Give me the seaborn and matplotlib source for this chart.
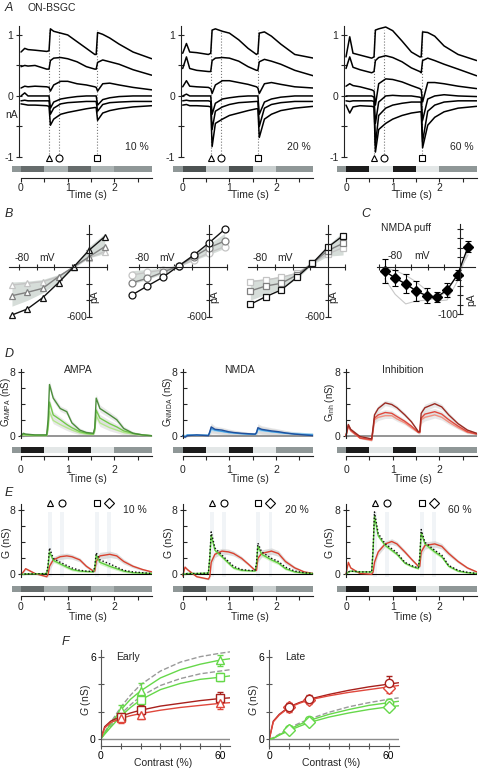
import numpy as np
import pandas as pd
import seaborn as sns
import matplotlib
matplotlib.use("Agg")
import matplotlib.pyplot as plt

# ---------------- data ----------------
contrasts = ['10 %', '20 %', '60 %']

# A: membrane currents (nA) at six holding potentials
a_time = [0.0, 0.08, 0.15, 0.3, 0.55, 0.6, 0.63, 0.7, 0.85, 1.0,
          1.2, 1.4, 1.58, 1.61, 1.64, 1.75, 1.9, 2.1, 2.4, 2.8]
a_10 = [
    [0.72, 0.78, 0.76, 0.75, 0.73, 0.74, 1.10, 1.06, 1.03, 1.0, 0.89, 0.78, 0.68, 0.68, 1.04, 1.01, 0.95, 0.85, 0.72, 0.61],
    [0.48, 0.50, 0.49, 0.50, 0.44, 0.44, 0.58, 0.62, 0.63, 0.61, 0.56, 0.48, 0.44, 0.44, 0.55, 0.59, 0.56, 0.52, 0.43, 0.34],
    [0.13, 0.16, 0.15, 0.16, 0.15, 0.14, 0.08, 0.18, 0.24, 0.24, 0.20, 0.18, 0.15, 0.14, 0.08, 0.20, 0.21, 0.18, 0.14, 0.10],
    [0.0, 0.05, 0.0, 0.0, 0.0, 0.0, -0.20, -0.10, -0.05, -0.03, -0.01, 0.0, 0.0, 0.0, -0.15, -0.06, -0.03, -0.01, 0.0, 0.0],
    [-0.08, -0.07, -0.08, -0.08, -0.08, -0.08, -0.30, -0.20, -0.13, -0.11, -0.10, -0.09, -0.09, -0.09, -0.25, -0.14, -0.11, -0.10, -0.09, -0.09],
    [-0.13, -0.14, -0.15, -0.15, -0.16, -0.17, -0.48, -0.38, -0.30, -0.27, -0.24, -0.21, -0.19, -0.19, -0.40, -0.28, -0.24, -0.21, -0.18, -0.16],
]
a_20 = [
    [0.70, 0.86, 0.72, 0.71, 0.68, 0.70, 1.08, 1.10, 1.06, 1.03, 0.92, 0.78, 0.68, 0.70, 1.03, 1.05, 0.98, 0.85, 0.68, 0.62],
    [0.45, 0.64, 0.45, 0.42, 0.40, 0.40, 0.58, 0.62, 0.63, 0.62, 0.57, 0.48, 0.42, 0.42, 0.56, 0.60, 0.57, 0.52, 0.42, 0.33],
    [0.15, 0.25, 0.16, 0.15, 0.14, 0.12, 0.04, 0.18, 0.25, 0.25, 0.22, 0.19, 0.15, 0.13, 0.04, 0.20, 0.22, 0.19, 0.15, 0.13],
    [0.0, 0.03, 0.0, 0.0, 0.0, 0.0, -0.30, -0.12, -0.05, -0.03, -0.01, 0.0, 0.0, 0.0, -0.30, -0.10, -0.05, -0.02, 0.0, 0.0],
    [-0.08, -0.07, -0.08, -0.08, -0.08, -0.09, -0.55, -0.25, -0.18, -0.14, -0.11, -0.10, -0.09, -0.09, -0.50, -0.20, -0.14, -0.11, -0.09, -0.09],
    [-0.15, -0.14, -0.16, -0.16, -0.17, -0.18, -0.83, -0.45, -0.38, -0.32, -0.28, -0.24, -0.21, -0.21, -0.68, -0.38, -0.30, -0.24, -0.20, -0.17],
]
a_60 = [
    [0.64, 0.97, 0.70, 0.67, 0.62, 0.64, 1.08, 1.10, 1.13, 1.07, 0.90, 0.72, 0.64, 0.64, 1.05, 1.04, 0.98, 0.82, 0.68, 0.58],
    [0.45, 0.64, 0.47, 0.43, 0.38, 0.40, 0.58, 0.63, 0.66, 0.63, 0.56, 0.46, 0.40, 0.38, 0.58, 0.62, 0.58, 0.52, 0.44, 0.33],
    [0.16, 0.20, 0.17, 0.15, 0.10, 0.08, -0.15, 0.20, 0.28, 0.27, 0.23, 0.17, 0.12, 0.10, -0.10, 0.22, 0.22, 0.20, 0.16, 0.12],
    [0.0, 0.0, 0.0, 0.0, 0.0, -0.02, -0.45, -0.10, 0.0, 0.01, 0.0, 0.0, -0.02, -0.03, -0.40, -0.05, 0.0, 0.02, 0.0, -0.01],
    [-0.08, -0.09, -0.08, -0.08, -0.08, -0.09, -0.80, -0.32, -0.20, -0.15, -0.12, -0.10, -0.10, -0.10, -0.75, -0.25, -0.15, -0.10, -0.08, -0.08],
    [-0.15, -0.28, -0.18, -0.16, -0.17, -0.18, -0.92, -0.55, -0.45, -0.38, -0.32, -0.28, -0.26, -0.26, -0.85, -0.48, -0.35, -0.26, -0.20, -0.17],
]
a_mark_t = [0.6, 0.82, 1.62]

# B: I-V relations (pA), 60 % black, 20 % dark grey, 10 % light grey
b_volt = [-88, -70.5, -53, -35, -17.5, 0, 17.5]
b_tri_60 = [-576, -504, -368, -188, 4, 204, 364]
b_tri_20 = [-344, -304, -256, -116, 4, 124, 244]
b_tri_10 = [-216, -196, -176, -116, 4, 112, 184]
b_tri_lo = [-470, -400, -310, -180, -10, 110, 160]
b_tri_hi = [-180, -170, -150, -90, 10, 250, 400]
b_cir_60 = [-336, -228, -124, 12, 144, 292, 452]
b_cir_20 = [-188, -136, -64, 12, 124, 232, 312]
b_cir_10 = [-96, -64, -36, 12, 84, 172, 244]
b_cir_lo = [-204, -150, -80, 0, 80, 150, 224]
b_cir_hi = [-44, -30, -10, 20, 150, 280, 404]
b_sq_60 = [-448, -356, -276, -124, 44, 236, 376]
b_sq_20 = [-288, -228, -196, -96, 44, 196, 284]
b_sq_10 = [-176, -156, -124, -76, 44, 156, 232]
b_sq_lo = [-396, -330, -260, -140, 30, 130, 144]
b_sq_hi = [-156, -140, -110, -60, 55, 260, 424]

# C: NMDA puff I-V (pA)
c_volt = [-93, -80, -67, -54, -41, -29, -16, -3, 10]
c_curr = [-9, -24, -36, -51, -61, -64, -49, -17, 42]
c_err = [26, 17, 20, 21, 16, 10, 14, 10, 12]
c_cell1 = [-25, -58, -78, -72, -70, -66, -52, -15, 25]
c_cell2 = [-2, -8, -18, -32, -50, -72, -70, -30, 35]

# D / E: conductances (nS)
g_time = [0.0, 0.05, 0.1, 0.3, 0.55, 0.58, 0.61, 0.69, 0.84, 0.98, 1.09, 1.26,
          1.4, 1.55, 1.58, 1.61, 1.69, 1.9, 2.05, 2.2, 2.4, 2.6, 2.8]
g_sem = [0.1, 0.15, 0.15, 0.1, 0.1, 0.3, 0.5, 0.4, 0.35, 0.35, 0.3, 0.25,
         0.2, 0.15, 0.2, 0.5, 0.45, 0.4, 0.35, 0.3, 0.2, 0.15, 0.1]
ampa_60 = [0, 0.3, 0.2, 0.1, 0.1, 2.0, 6.4, 4.7, 3.4, 3.0, 1.6, 0.7, 0.4, 0.3, 1.0, 4.7, 3.4, 2.6, 2.0, 0.9, 0.3, 0.1, 0.0]
ampa_20 = [0, 0.2, 0.1, 0.05, 0.05, 1.2, 4.2, 2.6, 2.0, 1.4, 1.0, 0.5, 0.3, 0.2, 0.8, 3.2, 2.2, 1.5, 1.1, 0.6, 0.3, 0.1, 0.0]
ampa_10 = [0, 0.1, 0.05, 0.0, 0.0, 0.8, 3.0, 1.9, 1.4, 1.0, 0.7, 0.35, 0.2, 0.15, 0.6, 2.5, 1.6, 1.0, 0.7, 0.4, 0.2, 0.05, 0.0]
nmda_60 = [0, -0.2, 0.0, 0.1, 0.0, 0.5, 1.1, 0.8, 0.7, 0.5, 0.4, 0.3, 0.25, 0.2, 0.4, 1.0, 0.8, 0.6, 0.5, 0.35, 0.2, 0.1, 0.0]
nmda_20 = [0, -0.1, 0.1, 0.05, 0.05, 0.4, 0.9, 0.7, 0.55, 0.4, 0.35, 0.25, 0.2, 0.15, 0.3, 0.85, 0.7, 0.5, 0.4, 0.3, 0.2, 0.15, 0.1]
nmda_10 = [0.1, 0.0, 0.1, 0.1, 0.1, 0.3, 0.7, 0.6, 0.5, 0.4, 0.3, 0.25, 0.2, 0.2, 0.3, 0.7, 0.6, 0.5, 0.4, 0.35, 0.3, 0.25, 0.2]
inh_60 = [0.0, 1.4, 0.8, -0.1, -0.4, 1.0, 2.6, 3.4, 4.1, 3.9, 3.5, 2.6, 1.75, 0.5, 0.5, 2.8, 3.5, 4.0, 3.6, 2.6, 1.5, 0.7, 0.3]
inh_20 = [0.0, 1.3, 0.7, -0.3, -0.5, 0.8, 2.2, 2.6, 2.9, 2.8, 2.4, 1.8, 1.2, 0.4, 0.4, 2.2, 2.7, 3.0, 2.7, 2.0, 1.2, 0.5, 0.2]
inh_10 = [0.0, 1.2, 0.6, -0.3, -0.6, 0.7, 2.0, 2.3, 2.5, 2.5, 2.1, 1.6, 1.0, 0.4, 0.4, 2.0, 2.3, 2.6, 2.3, 1.7, 1.0, 0.4, 0.2]

exc_10 = [0, 0.0, 0.05, 0.05, 0.1, 1.0, 2.8, 1.75, 1.3, 0.9, 0.6, 0.4, 0.35, 0.3, 0.8, 2.4, 1.5, 1.0, 0.7, 0.4, 0.2, 0.15, 0.1]
tot_10 = [0, 0.0, 0.05, 0.05, 0.1, 1.2, 3.3, 2.0, 1.5, 1.1, 0.8, 0.5, 0.4, 0.35, 0.9, 2.7, 1.8, 1.3, 0.9, 0.5, 0.3, 0.2, 0.1]
gin_10 = [0.0, 0.3, 0.7, 0.1, -0.3, 0.0, 1.0, 1.8, 2.2, 2.3, 2.2, 1.8, 1.0, 0.4, 0.4, 1.6, 2.3, 2.5, 2.3, 1.6, 1.0, 0.6, 0.3]
exc_20 = [0, 0.05, 0.1, 0.1, 0.15, 2.0, 4.9, 3.0, 2.2, 1.4, 0.8, 0.5, 0.45, 0.4, 1.2, 3.5, 2.5, 1.8, 1.4, 0.7, 0.3, 0.15, 0.1]
tot_20 = [0, 0.05, 0.1, 0.1, 0.15, 2.2, 5.3, 3.3, 2.4, 1.6, 1.0, 0.6, 0.5, 0.45, 1.4, 3.9, 2.8, 2.0, 1.6, 0.9, 0.4, 0.2, 0.1]
gin_20 = [-0.2, 0.9, 0.6, -0.3, -0.6, -0.3, 1.5, 2.5, 2.9, 2.8, 2.6, 2.0, 1.3, 0.5, 0.5, 2.0, 2.6, 2.9, 2.6, 1.6, 0.8, 0.3, 0.1]
exc_60 = [0, 0.3, 0.4, 0.3, 0.3, 3.0, 7.3, 4.8, 3.6, 3.0, 2.5, 1.4, 1.0, 0.7, 2.0, 5.2, 3.8, 2.8, 2.2, 1.0, 0.4, 0.2, 0.1]
tot_60 = [0, 0.3, 0.4, 0.3, 0.3, 3.2, 7.8, 5.1, 3.8, 3.2, 2.7, 1.5, 1.1, 0.8, 2.2, 5.6, 4.0, 3.0, 2.4, 1.1, 0.5, 0.25, 0.1]
gin_60 = [0.0, 1.5, 0.8, 0.1, 0.0, 0.3, 1.5, 2.8, 3.8, 4.1, 3.8, 2.8, 1.9, 1.0, 1.0, 2.8, 3.6, 3.8, 3.5, 2.6, 1.6, 0.8, 0.3]
e_mark_t = [0.62, 0.88, 1.62, 1.88]

# F: contrast response (nS)
f_contrast = [10, 20, 60]
f_fit_x = [0, 2, 5, 10, 15, 20, 30, 40, 50, 60, 65]
early_exc_tri = [2.1, 3.5, 5.75]
early_exc_tri_err = [0.4, 0.6, 0.4]
early_exc_sq = [1.63, 2.84, 4.5]
early_exc_sq_err = [0.3, 0.3, 0.3]
early_inh_sq = [1.6, 2.1, 3.0]
early_inh_sq_err = [0.3, 0.35, 0.4]
early_inh_tri = [1.5, 1.75, 2.6]
early_inh_tri_err = [0.3, 0.3, 0.4]
early_exc_tri_fit = [0, 0.45, 1.1, 2.1, 2.9, 3.5, 4.45, 5.05, 5.45, 5.75, 5.85]
early_exc_tri_dash = [0, 0.5, 1.2, 2.3, 3.2, 3.95, 4.95, 5.6, 6.0, 6.25, 6.35]
early_exc_sq_fit = [0, 0.35, 0.85, 1.65, 2.3, 2.85, 3.6, 4.05, 4.35, 4.5, 4.6]
early_exc_sq_dash = [0, 0.4, 0.95, 1.8, 2.5, 3.1, 3.9, 4.4, 4.75, 4.95, 5.05]
early_inh_sq_fit = [0, 0.9, 1.3, 1.65, 1.9, 2.1, 2.4, 2.6, 2.8, 2.95, 3.0]
early_inh_tri_fit = [0, 0.8, 1.2, 1.5, 1.7, 1.85, 2.1, 2.3, 2.45, 2.6, 2.65]
late_inh_cir = [2.35, 2.9, 4.1]
late_inh_cir_err = [0.3, 0.3, 0.5]
late_inh_dia = [2.3, 2.85, 3.75]
late_inh_dia_err = [0.3, 0.3, 0.4]
late_exc_cir = [0.7, 1.4, 2.65]
late_exc_cir_err = [0.12, 0.2, 0.3]
late_exc_dia = [0.65, 1.25, 2.35]
late_exc_dia_err = [0.1, 0.15, 0.2]
late_inh_cir_fit = [0, 1.3, 1.8, 2.35, 2.65, 2.9, 3.25, 3.55, 3.8, 4.0, 4.1]
late_inh_dia_fit = [0, 1.25, 1.75, 2.3, 2.6, 2.85, 3.15, 3.4, 3.6, 3.8, 3.9]
late_exc_cir_fit = [0, 0.05, 0.3, 0.7, 1.05, 1.35, 1.8, 2.15, 2.45, 2.65, 2.75]
late_exc_dia_fit = [0, 0.05, 0.28, 0.62, 0.92, 1.2, 1.6, 1.9, 2.15, 2.35, 2.42]
late_exc_dash = [0, 0.1, 0.35, 0.8, 1.15, 1.45, 1.95, 2.35, 2.65, 2.9, 3.0]

# stimulus bar
stim_edges = [-0.2, 0, 0.5, 1.0, 1.5, 2.0, 2.8]
bar_colors = {
    '10 %': ['#8f9797', '#666c6c', '#abb3b3', '#666c6c', '#abb3b3', '#8f9797'],
    '20 %': ['#8f9797', '#4d5353', '#c9cfcf', '#4d5353', '#c9cfcf', '#8f9797'],
    '60 %': ['#8f9797', '#1c1c1c', '#e3e7e7', '#1c1c1c', '#e3e7e7', '#8f9797'],
}

# ---------------- style ----------------
sns.set_style('ticks')
plt.rcParams['font.family'] = ['Liberation Sans', 'DejaVu Sans']
plt.rcParams['mathtext.fontset'] = 'custom'
plt.rcParams['mathtext.rm'] = 'Liberation Sans'
plt.rcParams['mathtext.it'] = 'Liberation Sans:italic'
plt.rcParams['mathtext.default'] = 'regular'
plt.rcParams['axes.facecolor'] = 'none'
plt.rcParams['axes.linewidth'] = 0.8
plt.rcParams['axes.edgecolor'] = '#222222'

W, H = 480, 768
FS = 7.5
T0 = [21, 182.7, 346]   # pixel of t = 0 in each column
PPS = 46.7              # pixels per second

fig = plt.figure(figsize=(W / 100, H / 100), dpi=100)


def axpx(l, t, r, b):
    return fig.add_axes([l / W, 1 - b / H, (r - l) / W, (b - t) / H])


def ftext(x, y, s, **kw):
    kw.setdefault('fontsize', FS)
    kw.setdefault('ha', 'center')
    kw.setdefault('va', 'center')
    fig.text(x / W, 1 - y / H, s, **kw)


def trace_axes(i, top, bottom, ylim, spine_x):
    t0 = T0[i]
    ax = axpx(t0 - 0.2 * PPS, top, t0 + 2.8 * PPS, bottom)
    ax.set_xlim(-0.2, 2.8)
    ax.set_ylim(*ylim)
    for s in ['top', 'right', 'bottom']:
        ax.spines[s].set_visible(False)
    ax.spines['left'].set_position(('data', spine_x))
    ax.set_xticks([])
    return ax


def stim_axes(i, bar_top, bar_bot, line_y, colors, pad):
    t0 = T0[i]
    ax = axpx(t0 - 0.2 * PPS, bar_top, t0 + 2.8 * PPS, line_y)
    ax.set_xlim(-0.2, 2.8)
    ax.set_ylim(0, 1)
    frac = (line_y - bar_bot) / (line_y - bar_top)
    for a, b, c in zip(stim_edges[:-1], stim_edges[1:], colors):
        ax.axvspan(a, b, ymin=frac, ymax=1, color=c, lw=0)
    for s in ['top', 'right', 'left']:
        ax.spines[s].set_visible(False)
    ax.spines['bottom'].set_bounds(0, 2.8)
    ax.set_yticks([])
    ax.set_xticks([0, 1, 2])
    ax.set_xticklabels(['0', '1', '2'])
    ax.set_xticks([0.5, 1.5, 2.5], minor=True)
    ax.tick_params(axis='x', which='both', direction='out', length=3, width=0.8,
                   labelsize=FS, pad=pad)
    return ax


# ---------------- A ----------------
ftext(9, 8, 'A', fontsize=9, style='italic')
ftext(27, 8, 'ON-BSGC', ha='left')
ftext(12, 115, 'nA')
for i, (pct, traces) in enumerate(zip(contrasts, [a_10, a_20, a_60])):
    ax = trace_axes(i, 25.8, 160, (-1.05, 1.15), -0.04)
    for t in a_mark_t:
        ax.plot([t, t], [-0.95, 1.08], ls=':', color='#777777', lw=0.8)
    df = pd.DataFrame({'t': np.tile(a_time, len(traces)),
                       'I': np.concatenate(traces),
                       'trace': np.repeat(np.arange(len(traces)), len(a_time))})
    sns.lineplot(data=df, x='t', y='I', units='trace', estimator=None,
                 color='black', lw=1.1, ax=ax, legend=False)
    ax.set_xlabel('')
    ax.set_ylabel('')
    ax.spines['left'].set_bounds(-1, 1.15)
    ax.set_yticks([-1, 0, 1])
    ax.set_yticklabels(['-1', '0', '1'])
    ax.set_yticks([-0.5, 0.5], minor=True)
    ax.tick_params(axis='y', which='both', direction='inout', length=5, width=0.8,
                   labelsize=FS, pad=1.5)
    for t, m in zip(a_mark_t, ['^', 'o', 's']):
        ax.plot(t, -1.02, marker=m, ms=5, mfc='white', mec='black', mew=0.8,
                clip_on=False)
    ax.text(2.48, -0.84, pct, fontsize=FS, ha='center', va='center')
    stim_axes(i, 165.7, 172.3, 178.3, bar_colors[pct], 0.5)
    ftext(T0[i] + 67, 195, 'Time (s)')

# ---------------- B ----------------
ftext(9, 214, 'B', fontsize=9, style='italic')
b_sets = [
    (89.3, '^', b_tri_60, b_tri_20, b_tri_10, b_tri_lo, b_tri_hi),
    (209.3, 'o', b_cir_60, b_cir_20, b_cir_10, b_cir_lo, b_cir_hi),
    (327.7, 's', b_sq_60, b_sq_20, b_sq_10, b_sq_lo, b_sq_hi),
]
for x0, m, s60, s20, s10, lo, hi in b_sets:
    ax = axpx(x0 - 92.5 * 0.879, 222, x0 + 23.5 * 0.879, 322)
    ax.set_xlim(-92.5, 23.5)
    ax.set_ylim(-660, 540)
    ax.fill_between(b_volt, lo, hi, color='#d6ddd9', lw=0)
    for vals, c in [(s10, '#c4c4c4'), (s20, '#808080'), (s60, '#111111')]:
        sns.lineplot(x=b_volt, y=vals, ax=ax, color=c, lw=1.0, marker=m, ms=5,
                     markerfacecolor='white', markeredgecolor=c, markeredgewidth=0.9)
    for s in ['top', 'right']:
        ax.spines[s].set_visible(False)
    ax.spines['left'].set_position(('data', 0))
    ax.spines['bottom'].set_position(('data', 0))
    ax.spines['left'].set_bounds(-600, 500)
    ax.spines['bottom'].set_bounds(-91, 20)
    ax.set_xticks([-80, -60, -40, -20, 20])
    ax.set_yticks([-600, -400, -200, 200, 400])
    ax.set_xticklabels([])
    ax.set_yticklabels([])
    ax.tick_params(which='both', direction='inout', length=5, width=0.8)
    ax.text(-77, 110, '-80', fontsize=FS, ha='center', va='center')
    ax.text(-48, 110, 'mV', fontsize=FS, ha='center', va='center')
    ax.text(-14, -595, '-600', fontsize=FS, ha='center', va='center')
    ax.text(6, -356, 'pA', fontsize=FS, ha='center', va='center', rotation=90)

# ---------------- C ----------------
ftext(366, 214, 'C', fontsize=9, style='italic')
ftext(381, 228, 'NMDA puff', ha='left')
axc = axpx(460 - 105 * 0.81, 220, 460 + 22.2 * 0.81, 322)
axc.set_xlim(-105, 22.2)
axc.set_ylim(-116, 98)
for cell in [c_cell1, c_cell2]:
    sns.lineplot(x=c_volt, y=cell, ax=axc, color='#c8c8c8', lw=0.8)
axc.errorbar(c_volt, c_curr, yerr=c_err, fmt='-D', color='black', ms=5,
             capsize=2.5, lw=1.0, elinewidth=0.8, capthick=0.8)
for s in ['top', 'right']:
    axc.spines[s].set_visible(False)
axc.spines['left'].set_position(('data', 0))
axc.spines['bottom'].set_position(('data', 0))
axc.spines['left'].set_bounds(-100, 90)
axc.spines['bottom'].set_bounds(-103, 18)
axc.set_xticks([-100, -80, -60, -40, -20])
axc.set_yticks([-100, -80, -60, -40, -20, 20, 40, 60, 80])
axc.set_xticklabels([])
axc.set_yticklabels([])
axc.tick_params(which='both', direction='inout', length=4, width=0.8)
axc.text(-80, 22, '-80', fontsize=FS, ha='center', va='center')
axc.text(-47, 22, 'mV', fontsize=FS, ha='center', va='center')
axc.text(-15, -101, '-100', fontsize=FS, ha='center', va='center')
axc.text(14, -70, 'pA', fontsize=FS, ha='center', va='center', rotation=90)

# ---------------- D ----------------
ftext(9, 354, 'D', fontsize=9, style='italic')
d_sets = [
    ('AMPA', r'G$_{\mathrm{AMPA}}$ (nS)', 6, [(ampa_10, '#b2e68c'), (ampa_20, '#72c94a'), (ampa_60, '#4b8d3b')]),
    ('NMDA', r'G$_{\mathrm{NMDA}}$ (nS)', 168, [(nmda_10, '#a5d6f3'), (nmda_20, '#3f9ee0'), (nmda_60, '#20509c')]),
    ('Inhibition', r'G$_{\mathrm{inh}}$ (nS)', 330, [(inh_10, '#f29080'), (inh_20, '#e0483c'), (inh_60, '#9a2a22')]),
]
for i, (title, ylab, ylx, series) in enumerate(d_sets):
    ax = trace_axes(i, 368.5, 442.1, (-0.8, 8.4), 0)
    ax.plot([0, 2.8], [0, 0], color='#8c8c8c', lw=1.3)
    for vals, c in series:
        ax.fill_between(g_time, np.array(vals) - np.array(g_sem),
                        np.array(vals) + np.array(g_sem), color='#dadada', lw=0, alpha=0.6)
    for vals, c in series:
        sns.lineplot(x=g_time, y=vals, ax=ax, color=c, lw=1.0)
    ax.spines['left'].set_bounds(-0.3, 8.4)
    ax.set_yticks([0, 8])
    ax.set_yticks([2, 4, 6], minor=True)
    ax.tick_params(axis='y', which='major', direction='inout', length=5, width=0.8,
                   labelsize=FS, pad=1.5)
    ax.tick_params(axis='y', which='minor', direction='in', length=3, width=0.8)
    ax.text(1.22, 8.2, title, fontsize=FS, ha='center', va='center')
    stim_axes(i, 447.3, 453.3, 455.5, bar_colors['60 %'], 4.0)
    ftext(T0[i] + 67, 479, 'Time (s)')
    ftext(ylx, 402, ylab, rotation=90, fontsize=7)

# ---------------- E ----------------
ftext(9, 493, 'E', fontsize=9, style='italic')
e_sets = [(exc_10, tot_10, gin_10), (exc_20, tot_20, gin_20), (exc_60, tot_60, gin_60)]
for i, (pct, (exc, tot, gin)) in enumerate(zip(contrasts, e_sets)):
    ax = trace_axes(i, 503.9, 580.7, (-0.8, 8.8), 0)
    for t in e_mark_t:
        ax.axvspan(t - 0.04, t + 0.04, ymin=0.05, ymax=0.9, color='#f1f4f7', lw=0)
    ax.plot([0, 2.8], [0, 0], color='black', lw=0.8)
    ax.fill_between(g_time, np.array(gin) - np.array(g_sem), np.array(gin) + np.array(g_sem),
                    color='#d6d6d6', lw=0, alpha=0.8)
    ax.fill_between(g_time, np.array(exc) - np.array(g_sem) * 0.6, np.array(exc) + np.array(g_sem) * 0.6,
                    color='#cdeebd', lw=0, alpha=0.8)
    sns.lineplot(x=g_time, y=gin, ax=ax, color='#d9412e', lw=1.0)
    sns.lineplot(x=g_time, y=exc, ax=ax, color='#5fcf3e', lw=1.0)
    sns.lineplot(x=g_time, y=tot, ax=ax, color='#111111', lw=1.0, ls=(0, (1, 1.5)))
    ax.spines['left'].set_bounds(-0.3, 8.8)
    ax.set_yticks([0, 8])
    ax.set_yticks([2, 4, 6], minor=True)
    ax.tick_params(axis='y', which='major', direction='inout', length=5, width=0.8,
                   labelsize=FS, pad=1.5)
    ax.tick_params(axis='y', which='minor', direction='in', length=3, width=0.8)
    for t, m in zip(e_mark_t, ['^', 'o', 's', 'D']):
        ax.plot(t, 8.95, marker=m, ms=5, mfc='white', mec='black', mew=0.8, clip_on=False)
    ax.text(2.44, 8.0, pct, fontsize=FS, ha='center', va='center')
    stim_axes(i, 585.7, 591.7, 596, bar_colors[pct], 1.5)
    ftext(T0[i] + 67, 617, 'Time (s)')
    ftext([7, 169, 330][i], 543, 'G (nS)', rotation=90)

# ---------------- F ----------------
ftext(65, 642, 'F', fontsize=9, style='italic')
GREEN, RED, DRED, DASH = '#66d84a', '#e0473c', '#a8201c', '#9a9a9a'
f_sets = [
    (100.7, 'Early',
     [(early_exc_tri_dash, DASH, '--'), (early_exc_sq_dash, DASH, '--'),
      (early_exc_tri_fit, GREEN, '-'), (early_exc_sq_fit, GREEN, '-'),
      (early_inh_sq_fit, DRED, '-'), (early_inh_tri_fit, RED, '-')],
     [(early_exc_tri, early_exc_tri_err, '^', GREEN), (early_exc_sq, early_exc_sq_err, 's', GREEN),
      (early_inh_sq, early_inh_sq_err, 's', DRED), (early_inh_tri, early_inh_tri_err, '^', RED)]),
    (269.3, 'Late',
     [(late_exc_dash, DASH, '--'), (late_exc_cir_fit, GREEN, '-'), (late_exc_dia_fit, GREEN, '-'),
      (late_inh_cir_fit, DRED, '-'), (late_inh_dia_fit, RED, '-')],
     [(late_exc_cir, late_exc_cir_err, 'o', GREEN), (late_exc_dia, late_exc_dia_err, 'D', GREEN),
      (late_inh_dia, late_inh_dia_err, 'D', RED), (late_inh_cir, late_inh_cir_err, 'o', DRED)]),
]
for x0, label, fits, pts in f_sets:
    ax = axpx(x0, 649.8, x0 + 65 * 1.99, 745.9)
    ax.set_xlim(0, 65)
    ax.set_ylim(-0.5, 6.5)
    ax.plot([0, 65], [0, 0], color='#8c8c8c', lw=1.0)
    for vals, c, ls in fits:
        sns.lineplot(x=f_fit_x, y=vals, ax=ax, color=c, lw=1.0, ls=ls)
    for vals, err, m, c in pts:
        ax.errorbar(f_contrast, vals, yerr=err, fmt=m, ms=6, mfc='white', mec=c, mew=1.0,
                    ecolor=c, elinewidth=0.9, capsize=2.5, capthick=0.9, ls='none')
    for s in ['top', 'right']:
        ax.spines[s].set_visible(False)
    for s in ['left', 'bottom']:
        ax.spines[s].set_color('#555555')
    ax.set_xticks([0, 60])
    ax.set_xticks([10, 20, 30, 40, 50], minor=True)
    ax.set_yticks([0, 6])
    ax.set_yticks([2, 4], minor=True)
    ax.tick_params(which='both', direction='inout', length=4, width=0.8, colors='#555555',
                   labelcolor='black', labelsize=FS, pad=1.5)
    ax.text(8, 6.0, label, fontsize=FS, ha='left', va='center')
    ftext(x0 - 15, 700, r'$\it{G}$ (nS)', rotation=90)
    ftext(x0 + 62, 763, 'Contrast (%)')

fig.savefig('out.png', dpi=100)
